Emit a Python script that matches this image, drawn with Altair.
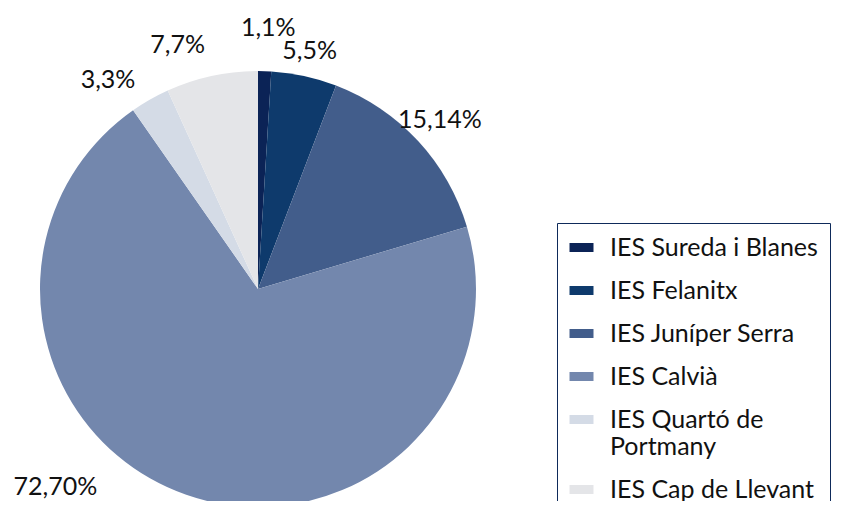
import math
import altair as alt
import pandas as pd

# ---- data ----
schools = [
    "IES Sureda i Blanes",
    "IES Felanitx",
    "IES Juníper Serra",
    "IES Calvià",
    "IES Quartó de Portmany",
    "IES Cap de Llevant",
]
counts = [1, 5, 15, 72, 3, 7]
percents = [1, 5, 14, 70, 3, 7]

# ---- styles ----
colors = ["#0b2356", "#0e3a6c", "#425d8b", "#7387ad", "#d4dbe6", "#e4e5e8"]
label_radius = [261, 244, 248, 283, 257, 257]
label_angle_shift = [0.5, 0, 0, 26.5, -6, -6]   # degrees, nudges like the original
FONT = "Lato"

df = pd.DataFrame({"school": schools, "count": counts, "pct": percents})
df["idx"] = range(len(df))
df["label"] = [f"{c},{p}%" for c, p in zip(counts, percents)]
total = sum(counts)
cum = df["count"].cumsum()
mid = (cum - df["count"] / 2) / total * 2 * math.pi
df["ang"] = mid + pd.Series(label_angle_shift).apply(math.radians)
df["r"] = label_radius

CX, CY, R = 250, 281, 218

color = alt.Color(
    "school:N",
    scale=alt.Scale(domain=schools, range=colors),
    legend=alt.Legend(
        title=None,
        orient="none",
        legendX=549,
        legendY=215,
        padding=12,
        strokeColor="#0e2a5a",
        fillColor="white",
        symbolType="M-1,-0.375H1V0.375H-1Z",
        symbolSize=576,
        symbolStrokeWidth=0,
        symbolOpacity=1,
        labelFont=FONT,
        labelFontSize=25,
        labelColor="#111111",
        labelOffset=16,
        labelLimit=400,
        rowPadding=17,
        labelExpr="datum.label == 'IES Quartó de Portmany' ? ['IES Quartó de', 'Portmany'] : datum.label",
    ),
)

pie = (
    alt.Chart(df)
    .mark_arc(outerRadius=R)
    .encode(
        theta=alt.Theta("count:Q", stack=True),
        order=alt.Order("idx:Q"),
        color=color,
        x=alt.value(CX),
        y=alt.value(CY),
    )
)

labels = (
    alt.Chart(df)
    .mark_text(font=FONT, fontSize=25, color="#111111", align="center", baseline="middle")
    .encode(
        theta=alt.Theta("ang:Q", scale=None),
        radius=alt.Radius("r:Q", scale=None),
        text="label:N",
        x=alt.value(CX),
        y=alt.value(CY),
    )
)

chart = (
    alt.layer(pie, labels)
    .properties(width=849, height=493, padding=0, autosize=alt.AutoSizeParams(type="none"))
    .configure_view(stroke=None)
)

chart.save("out.html", embed_options={"renderer": "svg", "actions": False})
